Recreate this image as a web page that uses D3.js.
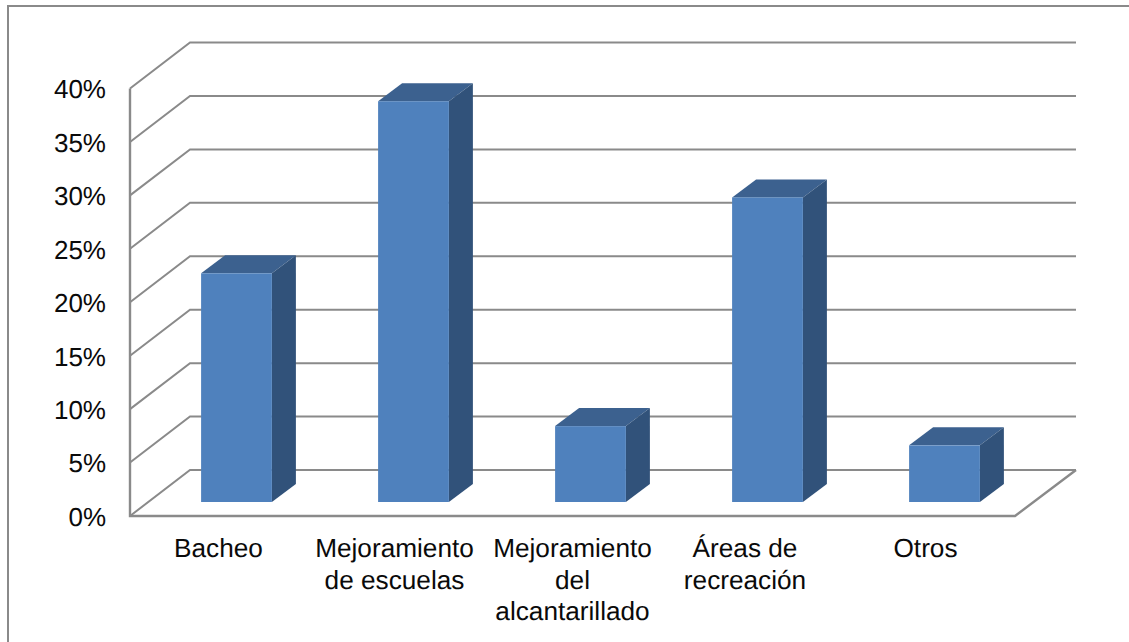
<!DOCTYPE html>
<html><head><meta charset="utf-8">
<script src="https://cdn.jsdelivr.net/npm/d3@7"></script>
<style>html,body{margin:0;padding:0;background:#fff;overflow:hidden}svg{display:block}text{font-family:"Liberation Sans",Arial,sans-serif;fill:#0a0a0a;text-rendering:geometricPrecision}</style>
</head><body><svg id="c" width="1129" height="642"></svg>
<script>
const categories=[["Bacheo"],["Mejoramiento","de escuelas"],["Mejoramiento","del","alcantarillado"],["Áreas de","recreación"],["Otros"]];
const values=[21.4,37.5,7.1,28.5,5.3];
const yTicks=[0,5,10,15,20,25,30,35,40];
const svg=d3.select("#c");
const grey="#8a8a8a";
const left=130,right=1015,floorY=516,topY=88.5;
const backDx=60,backDy=-46,backRight=1076;
const barDepthX=24,barDepthY=-18,barInsetX=18,barInsetY=-14;
const labelNudge=[0,-1,0,-4.5,-1];
const idx=categories.map((d,i)=>i);
const x=d3.scaleBand().domain(idx).range([left,right]).paddingInner(0.6).paddingOuter(0.3);
const y=d3.scaleLinear().domain([0,40]).range([floorY,topY]);
// frame
svg.append("path").attr("d","M8,642V6H1129").attr("fill","none").attr("stroke",grey).attr("stroke-width",2);
// grid
const grid=svg.append("g").attr("fill","none").attr("stroke",grey).attr("stroke-width",2);
grid.selectAll("path").data(yTicks).join("path")
 .attr("d",d=>`M${left},${y(d)}L${left+backDx},${y(d)+backDy}H${backRight}`);
grid.append("path").attr("d",`M${left},${topY}V${floorY}H${right}L${backRight},${floorY+backDy}`).attr("stroke-width",2.4);
// y axis labels
const ax=svg.append("g").attr("transform","translate(106,1)").call(d3.axisLeft(y).tickValues(yTicks).tickSize(0).tickPadding(0).tickFormat(d=>d+"%"));
ax.select(".domain").remove();
ax.selectAll("text").attr("font-size",26).style("font-family",'"Liberation Sans",Arial,sans-serif').attr("fill","#0a0a0a");
// bars
const bars=svg.append("g").selectAll("g").data(idx).join("g");
const bx=i=>x(i)+barInsetX, bw=x.bandwidth();
const by=i=>y(values[i])+barInsetY, base=floorY+barInsetY;
bars.append("path").attr("fill","#3c618f").attr("d",i=>`M${bx(i)},${by(i)}l${barDepthX},${barDepthY}h${bw}l${-barDepthX},${-barDepthY}z`);
bars.append("path").attr("fill","#31527a").attr("d",i=>`M${bx(i)+bw},${by(i)}l${barDepthX},${barDepthY}V${base+barDepthY}l${-barDepthX},${-barDepthY}z`);
bars.append("rect").attr("fill","#4f81bd").attr("x",bx).attr("y",by).attr("width",bw).attr("height",i=>base-by(i));
// category labels
const cat=svg.append("g").attr("text-anchor","middle").attr("font-size",26.2);
cat.selectAll("text").data(idx).join("text")
 .attr("data-x",i=>x(i)+bw/2+labelNudge[i])
 .selectAll("tspan").data(i=>categories[i]).join("tspan")
 .attr("x",function(){return d3.select(this.parentNode).attr("data-x")})
 .attr("y",(d,k)=>557+k*31.5).text(d=>d);
</script></body></html>
